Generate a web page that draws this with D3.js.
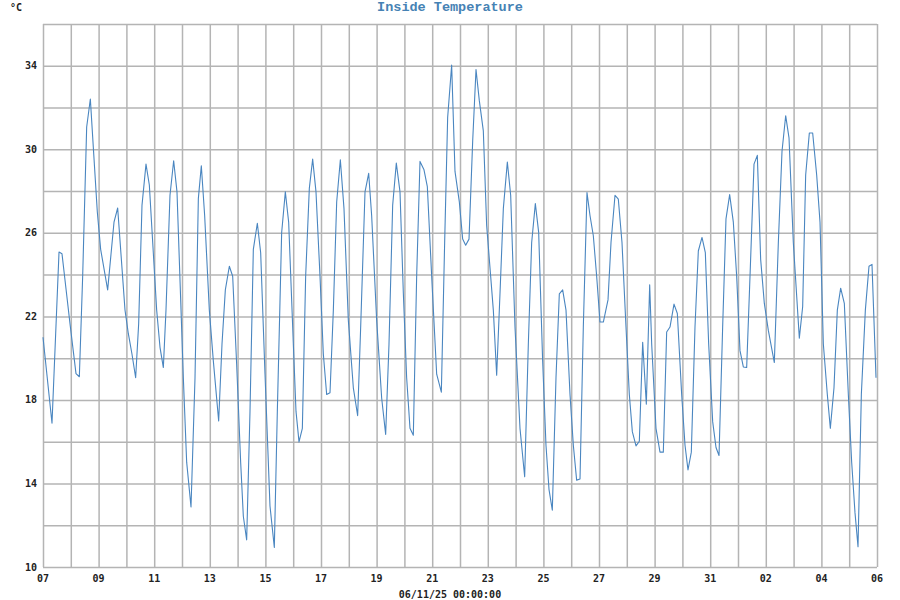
<!DOCTYPE html>
<html><head><meta charset="utf-8">
<script src="https://cdn.jsdelivr.net/npm/d3@7"></script>
<style>body{margin:0;background:#fff}</style>
</head><body><svg id="c" width="900" height="600"></svg>
<script>
const chartTitle = "Inside Temperature";
const unitLabel = "°C";
const xAxisTitle = "06/11/25 00:00:00";
const xTickLabels = ["07","09","11","13","15","17","19","21","23","25","27","29","31","02","04","06"];
const yTickValues = [10,14,18,22,26,30,34];
const dayOffset = [0,0.324,0.576,0.683,0.971,1.187,1.307,1.427,1.571,1.703,1.811,1.954,2.074,2.326,2.554,2.686,2.95,3.07,3.2,3.333,3.441,3.561,3.705,3.825,4.089,4.209,4.329,4.424,4.568,4.7,4.82,
5.048,5.168,5.324,5.468,5.588,5.695,5.815,5.983,6.127,6.319,6.439,6.559,6.703,6.823,6.966,7.11,7.206,7.326,7.446,7.566,7.71,7.83,7.986,8.165,8.321,8.429,8.585,8.717,8.837,9.005,9.101,9.209,9.329,9.448,9.58,9.7,9.82,9.964,
10.084,10.204,10.324,10.444,10.564,10.696,10.827,10.983,11.163,11.319,11.427,11.583,11.715,11.822,12.002,12.182,12.326,12.446,12.578,12.709,12.842,12.962,13.081,13.201,13.321,13.441,13.561,13.705,13.825,13.981,14.161,14.329,14.448,14.556,14.7,14.82,14.976,
15.096,15.204,15.324,15.456,15.576,15.695,15.839,15.959,16.103,16.199,16.319,16.439,16.559,16.703,16.823,16.978,17.158,17.326,17.458,17.578,17.71,17.83,17.973,18.093,18.201,18.321,18.453,18.573,18.693,18.813,18.957,19.077,19.196,19.317,19.436,19.568,19.676,19.796,19.916,20.036,20.156,
20.324,20.432,20.576,20.695,20.827,20.971,21.091,21.199,21.331,21.451,21.571,21.703,21.823,21.895,22.05,22.194,22.314,22.434,22.554,22.698,22.818,22.974,23.094,23.201,23.321,23.453,23.573,23.705,23.825,23.945,24.089,24.209,24.317,24.448,24.568,24.7,24.832,24.952,25.072,
25.192,25.312,25.432,25.576,25.695,25.815,25.947,26.091,26.307,26.451,26.583,26.715,26.835,26.99,27.206,27.326,27.434,27.566,27.686,27.83,27.95,28.07,28.213,28.321,28.453,28.573,28.693,28.825,28.969,29.089,29.209,29.317,29.437,29.581,29.712,29.82,29.964];
const temps = [21.0,16.88,25.08,25.0,21.65,19.26,19.11,23.92,31.07,32.41,30.07,27.0,25.21,23.27,26.51,27.19,22.3,21.17,20.2,19.06,21.65,27.32,29.29,28.29,22.3,20.52,19.55,22.3,27.8,29.45,27.96,
19.06,15.02,12.87,19.06,27.64,29.21,26.83,22.3,19.87,16.99,20.68,23.27,24.4,23.92,19.71,15.02,12.43,11.3,17.45,25.21,26.46,25.05,19.23,12.92,10.94,17.45,26.02,27.96,26.51,20.68,17.45,15.99,16.64,23.92,28.13,29.53,27.96,23.92,
20.2,18.26,18.34,22.3,27.48,29.5,27.16,21.82,18.58,17.25,21.49,27.96,28.85,26.83,21.82,18.09,16.35,20.68,27.32,29.34,27.96,23.11,19.06,16.64,16.31,23.92,29.42,29.02,28.21,23.92,19.23,18.37,25.54,31.52,34.03,28.94,27.48,
25.7,25.41,25.7,30.39,33.82,32.33,30.88,26.35,23.92,22.3,19.18,23.11,27.16,29.39,27.8,21.49,16.64,14.32,20.68,25.54,27.4,26.02,19.87,15.83,13.72,12.72,19.06,23.08,23.27,22.3,18.26,15.83,14.16,14.21,21.49,27.93,26.83,25.86,23.92,21.73,21.73,
22.79,25.54,27.8,27.61,25.54,21.49,18.26,16.48,15.8,16.02,20.76,17.8,23.51,20.68,16.64,15.5,15.5,21.25,21.49,22.59,22.14,18.26,15.83,14.65,15.5,21.49,25.13,25.78,25.05,20.68,16.96,15.72,15.34,21.49,26.67,27.83,26.51,23.92,20.36,
19.58,19.55,23.92,29.29,29.71,24.73,22.62,21.33,19.79,25.54,29.91,31.61,30.55,25.54,20.96,22.46,28.77,30.78,30.78,28.77,26.51,20.68,18.26,16.64,18.58,22.3,23.35,22.62,18.26,15.02,12.59,10.97,18.26,22.3,24.4,24.49,19.06];

const svg = d3.select("#c");
const margin = {left:43, right:23, top:24, bottom:33};
const W = 900, H = 600;
const x = d3.scaleLinear().domain([0,30]).range([margin.left, W - margin.right]);
const y = d3.scaleLinear().domain([10,36]).range([H - margin.bottom, margin.top]);
const font = "'DejaVu Sans Mono', monospace";
const titleFont = "'Liberation Mono', 'Courier New', monospace";
const gridColor = "#b4b4b4";

// grid
svg.append("g").attr("transform",`translate(0,${H-margin.bottom})`)
  .call(d3.axisBottom(x).tickValues(d3.range(0,31,1)).tickSize(-(H-margin.bottom-margin.top)).tickFormat(""))
  .call(g=>g.select(".domain").remove())
  .call(g=>g.selectAll("line").attr("stroke",gridColor).attr("stroke-width",1.5));
svg.append("g").attr("transform",`translate(${margin.left},0)`)
  .call(d3.axisLeft(y).tickValues(d3.range(10,37,2)).tickSize(-(W-margin.left-margin.right)).tickFormat(""))
  .call(g=>g.select(".domain").remove())
  .call(g=>g.selectAll("line").attr("stroke",gridColor).attr("stroke-width",1.5));

// y labels
svg.append("g").selectAll("text").data(yTickValues).join("text")
  .attr("x", margin.left - 6).attr("y", d=>y(d)).attr("dy","0.35em")
  .attr("text-anchor","end").attr("font-family",font).attr("font-weight","bold")
  .attr("font-size",10).attr("fill","#222").text(d=>d);

// x labels
svg.append("g").selectAll("text").data(xTickLabels).join("text")
  .attr("x",(d,i)=>x(i*2)).attr("y", H - margin.bottom + 11).attr("dy","0.35em")
  .attr("text-anchor","middle").attr("font-family",font).attr("font-weight","bold")
  .attr("font-size",10).attr("fill","#222").text(d=>d);

svg.append("text").attr("x",450).attr("y",594).attr("dy","0.35em").attr("text-anchor","middle")
  .attr("font-family",font).attr("font-weight","bold").attr("font-size",10).attr("fill","#222").text(xAxisTitle);

svg.append("text").attr("x",450).attr("y",6.5).attr("dy","0.35em").attr("text-anchor","middle")
  .attr("font-family",titleFont).attr("font-weight","bold").attr("font-size",13.5).attr("fill","#4682b4").text(chartTitle);

svg.append("text").attr("x",10).attr("y",7).attr("dy","0.35em")
  .attr("font-family",font).attr("font-weight","bold").attr("font-size",10).attr("fill","#222").text(unitLabel);

// line
const data = dayOffset.map((d,i)=>({t:d, v:temps[i]}));
svg.append("path").datum(data)
  .attr("fill","none").attr("stroke","#4a86c0").attr("stroke-width",1.1).attr("stroke-linejoin","round")
  .attr("d", d3.line().x(d=>x(d.t)).y(d=>y(d.v)));
</script></body></html>
